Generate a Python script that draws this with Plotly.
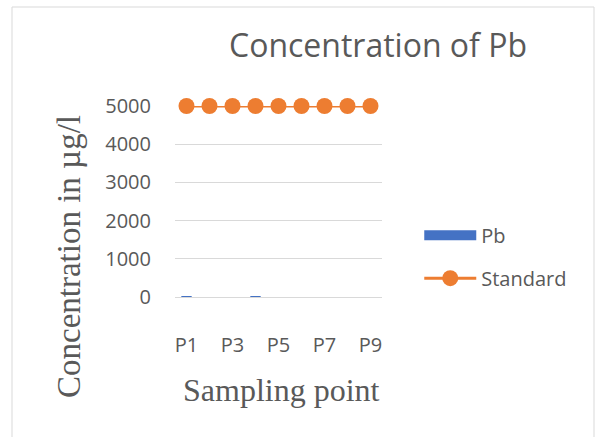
import plotly.graph_objects as go

categories = ["P1", "P2", "P3", "P4", "P5", "P6", "P7", "P8", "P9"]
pb_values = [20, 0, 0, 18, 0, 0, 0, 0, 0]
standard_values = [5000, 5000, 5000, 5000, 5000, 5000, 5000, 5000, 5000]
y_ticks = [0, 1000, 2000, 3000, 4000, 5000]
x_tick_labels = ["P1", "P3", "P5", "P7", "P9"]

grey = "#595959"
blue = "#4472C4"
orange = "#ED7D31"
fig = go.Figure()
fig.add_trace(go.Bar(x=categories, y=pb_values, name="Pb",
                     marker=dict(color=blue, line=dict(width=0)),
                     showlegend=False))
# legend-only entry giving the wide Excel-style swatch for the bar series
fig.add_trace(go.Scatter(x=[None], y=[None], name="Pb", mode="lines",
                         line=dict(color=blue, width=10), legendgroup="a"))
fig.add_trace(go.Scatter(x=categories, y=standard_values, name="Standard",
                         mode="lines+markers",
                         line=dict(color=orange, width=3),
                         marker=dict(color=orange, size=16),
                         cliponaxis=False, legendgroup="b"))

fig.update_layout(
    width=595, height=437,
    margin=dict(l=175, r=213, t=106, b=140),
    paper_bgcolor="white", plot_bgcolor="white",
    bargap=0.55,
    font=dict(family="Open Sans", color=grey, size=20),
    title=dict(text="Concentration of Pb", x=378/595, xanchor="center",
               y=1-46/437, yanchor="middle",
               font=dict(family="Open Sans", size=32, color=grey)),
    showlegend=True,
    legend=dict(x=1.18, xanchor="left", y=0.426, yanchor="top",
                itemwidth=52, tracegroupgap=14, font=dict(size=20, color=grey),
                bgcolor="rgba(0,0,0,0)"),
    xaxis=dict(type="category", categoryorder="array", categoryarray=categories,
               range=[-0.5, len(categories) - 0.5],
               tickmode="array", tickvals=x_tick_labels, ticktext=x_tick_labels,
               showgrid=False, showline=True, linecolor="#D9D9D9", linewidth=1,
               ticks="", ticklabelstandoff=30, tickfont=dict(size=20, color=grey)),
    yaxis=dict(range=[0, 5000], tickvals=y_ticks, showgrid=True,
               gridcolor="#D9D9D9", gridwidth=1, zeroline=False,
               ticks="", ticklabelstandoff=23, tickfont=dict(size=20, color=grey)),
    annotations=[
        dict(text="Concentration in µg/l", textangle=-90, xref="paper", yref="paper",
             x=(69-175)/207, y=(297-256)/191, xanchor="center", yanchor="middle",
             showarrow=False, font=dict(family="Liberation Serif", size=33, color=grey)),
        dict(text="Sampling point", xref="paper", yref="paper",
             x=(281-175)/207, y=-(390-297)/191, xanchor="center", yanchor="middle",
             showarrow=False, font=dict(family="Liberation Serif", size=32, color=grey)),
    ],
    shapes=[dict(type="rect", xref="paper", yref="paper",
                 x0=(12-175)/207, x1=(594-175)/207, y0=-(445-297)/191, y1=(297-7)/191,
                 line=dict(color="#D9D9D9", width=1), layer="below")],
)

fig.write_html("out.html", config={"displayModeBar": False},
               post_script="document.body.style.margin='0px';")
